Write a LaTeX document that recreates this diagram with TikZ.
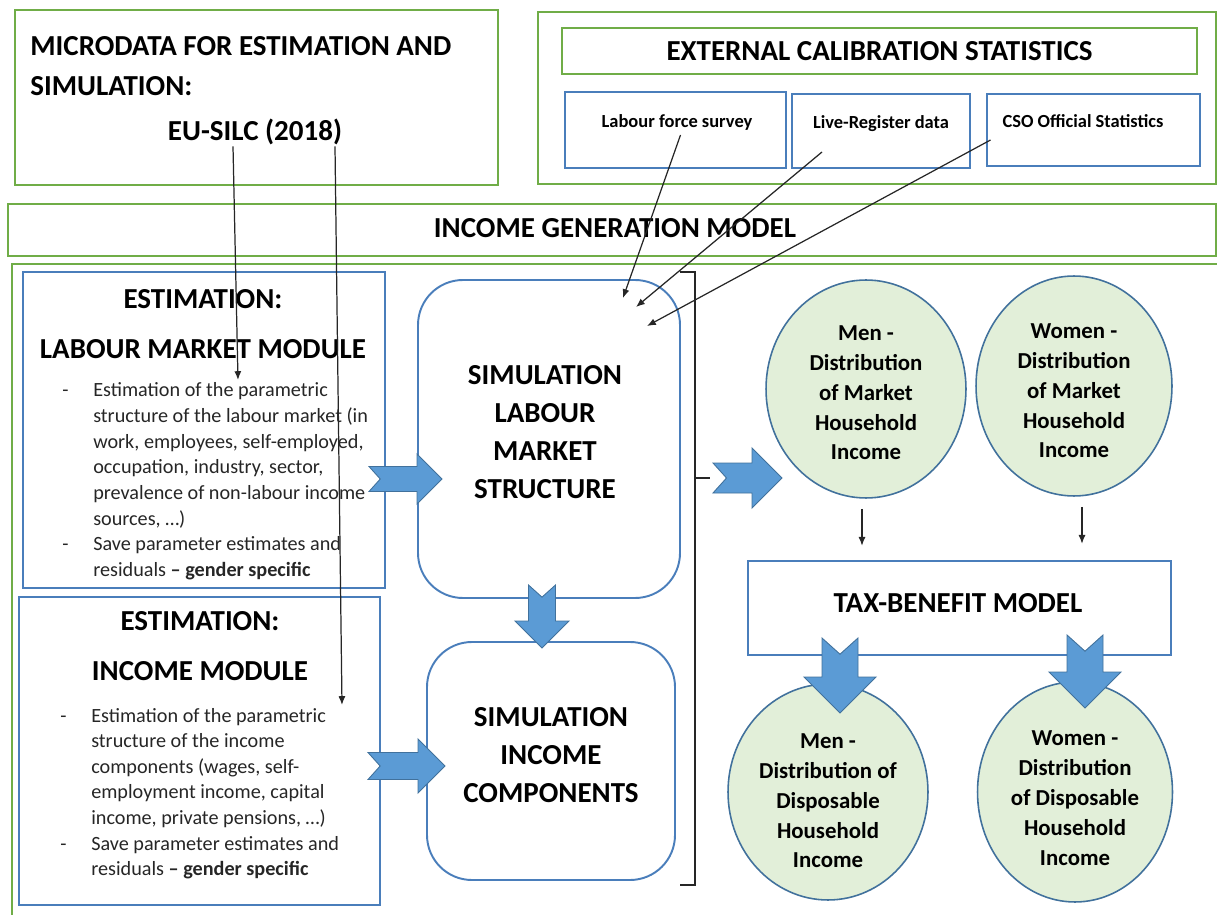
\documentclass[tikz,border=0pt]{standalone}
\usepackage{fontspec}
\setmainfont{Carlito}
\usepackage{xcolor}
\usepackage{tikz}
\usetikzlibrary{calc,fit,shapes.geometric,arrows.meta}

\definecolor{framegreen}{RGB}{112,173,71}
\definecolor{boxblue}{RGB}{74,126,187}
\definecolor{arrowblue}{RGB}{91,155,213}
\definecolor{arrowline}{RGB}{65,113,156}
\definecolor{ovalgreen}{RGB}{226,239,217}

\newcommand{\headfont}{\fontsize{16.5}{22.7}\bfseries\selectfont}
\newcommand{\simfont}{\fontsize{16.5}{21.6}\bfseries\selectfont}
\newcommand{\ovalfont}{\fontsize{13}{17}\bfseries\selectfont}
\newcommand{\listfont}{\fontsize{11.5}{14.6}\selectfont}

\tikzset{
	pics/fatarrow/.style 2 args={code={
		\filldraw[blockarrow] (0,{-#2/2}) -- ({#1-#2},{-#2/2}) -- ({#1-#2},-#2) -- (#1,0)
			-- ({#1-#2},#2) -- ({#1-#2},{#2/2}) -- (0,{#2/2}) -- ({0.45*#2},0) -- cycle;
	}}
}

\begin{document}
\begin{tikzpicture}[x=0.02cm, y=-0.02cm,
		greenbox/.style={draw=framegreen, line width=1.1pt, inner sep=0pt},
		bluebox/.style={draw=boxblue, line width=1.1pt, inner sep=0pt},
		simbox/.style={bluebox, rounded corners=0.9cm},
		oval/.style={ellipse, draw=arrowline, line width=0.9pt, fill=ovalgreen, inner sep=0pt,
			minimum width=4cm, minimum height=4.36cm, align=center, font=\ovalfont},
		thinarrow/.style={-{Latex[length=5pt,width=4pt]}, line width=0.7pt, black!85},
		blockarrow/.style={fill=arrowblue, draw=arrowline, line width=0.5pt},
		heading/.style={font=\headfont, inner sep=0pt}]
	\useasboundingbox (0,0) rectangle (1217,915);

	% microdata
	\node[greenbox, fit={(15,10) (498,185)}] (micro) {};
	\node[heading, anchor=north west, align=left] (microtxt) at (30,36)
		{MICRODATA FOR ESTIMATION AND\\SIMULATION:};
	\node[heading] (silc) at (255,132) {EU-SILC (2018)};

	% external statistics
	\node[greenbox, fit={(538,12) (1216,184)}] (external) {};
	\node[greenbox, fit={(562,28) (1197,74)}] (calib) {};
	\node[heading] (caltxt) at (calib) {EXTERNAL CALIBRATION STATISTICS};
	\node[bluebox, fit={(565,92) (786,168)}] (lfs) {};
	\node[bluebox, fit={(792,94) (970,168)}] (lrd) {};
	\node[bluebox, fit={(987,94) (1200,166)}] (cso) {};
	\node[font=\fontsize{10.5}{12}\bfseries\selectfont] (lfstxt) at (677,122) {Labour force survey};
	\node[font=\fontsize{10.5}{12}\bfseries\selectfont] (lrdtxt) at (881,124) {Live-Register data};
	\node[font=\fontsize{10.5}{12}\bfseries\selectfont] (csotxt) at (1083,121) {CSO Official Statistics};

	% income generation model
	\node[greenbox, fit={(8,204) (1216,256)}] (igm) {};
	\node[heading] (igmtxt) at (615,228) {INCOME GENERATION MODEL};
	\draw[framegreen, line width=1.1pt] (1217,264) -- (12,264) -- (12,915);

	% estimation
	\node[bluebox, fit={(23,272) (385,588)}] (estlm) {};
	\node[heading] (esthead1) at (203,299) {ESTIMATION:};
	\node[heading] (lmhead) at (203,349) {LABOUR MARKET MODULE};
	\node[anchor=base west, inner sep=0pt, font=\listfont, text=black!85] (lmlist) at (62,397)
	{
		\begin{tabular}[t]{@{}p{17.6pt}@{}l@{}}
			- & Estimation of the parametric \\
			  & structure of the labour market (in \\
			  & work, employees, self-employed, \\
			  & occupation, industry, sector, \\
			  & prevalence of non-labour income \\
			  & sources, …) \\
			- & Save parameter estimates and \\
			  & residuals \textbf{– gender specific} \\
		\end{tabular}
	};
	\node[bluebox, fit={(19,597) (380,905)}] (estinc) {};
	\node[heading] (esthead2) at (200,621) {ESTIMATION:};
	\node[heading] (inchead) at (200,671) {INCOME MODULE};
	\node[anchor=base west, inner sep=0pt, font=\listfont, text=black!85] (inclist) at (60,722)
	{
		\begin{tabular}[t]{@{}p{17.6pt}@{}l@{}}
			- & Estimation of the parametric \\
			  & structure of the income \\
			  & components (wages, self- \\
			  & employment income, capital \\
			  & income, private pensions, …) \\
			- & Save parameter estimates and \\
			  & residuals \textbf{– gender specific} \\
		\end{tabular}
	};

	% simulation
	\node[simbox, fit={(418,280) (680,598)}] (simlm) {};
	\node[font=\simfont, align=center] (simlmtxt) at (545,432) {SIMULATION\\LABOUR\\MARKET\\STRUCTURE};
	\node[simbox, fit={(427,642) (675,880)}] (siminc) {};
	\node[font=\simfont, align=center] (siminctxt) at (551,755) {SIMULATION\\INCOME\\COMPONENTS};
	\draw[line width=0.9pt, black!85] (680,272) -- (695,272) -- (695,885) -- (680,885)
		(695,478) -- (710,478);

	% distributions (the rule pushes the lines down a little)
	\node[oval] (menm) at (866,389)
		{\rule{0pt}{12.9pt}Men -\\Distribution\\of Market\\Household\\Income};
	\node[oval, minimum width=3.92cm, minimum height=4.4cm] (womm) at (1074,386)
		{\rule{0pt}{14pt}Women -\\Distribution\\of Market\\Household\\Income};
	\node[bluebox, fit={(748,561) (1171,655)}] (tax) {};
	\node[heading] (taxtxt) at (958,603) {TAX-BENEFIT MODEL};
	\node[oval, minimum height=4.32cm] (mend) at (828,792)
		{\rule{0pt}{18.6pt}Men -\\Distribution of\\Disposable\\Household\\Income};
	\node[oval, minimum width=3.9cm, minimum height=4.4cm] (womd) at (1075,792)
		{\rule{0pt}{15.2pt}Women -\\Distribution\\of Disposable\\Household\\Income};

	% thin arrows
	\coordinate (lmin) at (238,380);
	\coordinate (incin) at (342,705);
	\coordinate (calA) at (623,298);
	\coordinate (calB) at (636,307);
	\coordinate (calC) at (647,326);
	\draw[thinarrow] ($(silc.south)+(-22,1)$) -- (lmin);
	\draw[thinarrow] ($(silc.south)+(80,1)$) -- (incin);
	\draw[thinarrow] ($(lfs.center)+(5,5)$) -- (calA);
	\draw[thinarrow] ($(lrd.center)+(-59,21)$) -- (calB);
	\draw[thinarrow] ($(cso.center)+(-103,10)$) -- (calC);
	\draw[thinarrow] ($(menm.south)+(-4,10)$) -- ++(0,37);
	\draw[thinarrow] ($(womm.south)+(8,10)$) -- ++(0,37);

	% block arrows
	\pic at (369,479) {fatarrow={73}{25}};
	\pic at (368,766) {fatarrow={77}{27}};
	\pic at (713,478) {fatarrow={69}{30}};
	\pic[rotate=-90] at (542,585) {fatarrow={63}{27}};
	\pic[rotate=-90] at (840,638) {fatarrow={75}{36}};
	\pic[rotate=-90] at (1085,635) {fatarrow={73}{36}};
\end{tikzpicture}
\end{document}
